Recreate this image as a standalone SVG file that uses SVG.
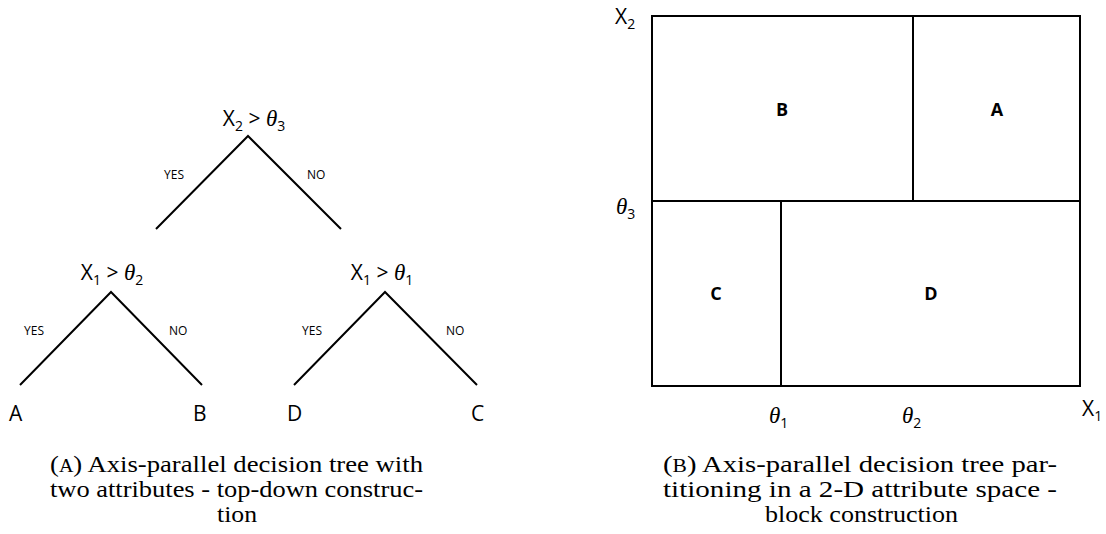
<svg xmlns="http://www.w3.org/2000/svg" width="1106" height="534" viewBox="0 0 1106 534">
<style>
.ln{stroke:#000;stroke-width:2;fill:none}
.lbl{font-family:"Open Sans","Liberation Sans",sans-serif;font-size:21px;fill:#000}
.sm{font-family:"Open Sans","Liberation Sans",sans-serif;font-size:12px;fill:#000}
.th{font-family:"Liberation Serif",serif;font-style:italic;font-size:23px}
.sub{font-size:14px}
.blk{font-family:"Open Sans","Liberation Sans",sans-serif;font-size:18px;font-weight:bold;text-anchor:middle;fill:#000}
.cap{font-family:"Liberation Serif",serif;font-size:24px;fill:#000}
.mid{text-anchor:middle}
</style>
<rect width="1106" height="534" fill="#fff"/>

<g id="connectors">
  <path class="ln" d="M156,229 L248,136 L341,229"/>
  <path class="ln" d="M20,385 L111,292 L202,385"/>
  <path class="ln" d="M294,385 L385,292 L477,385"/>
</g>

<g id="edge-labels">
  <text class="sm" x="164" y="179">YES</text>
  <text class="sm" x="307" y="179">NO</text>
  <text class="sm" x="24" y="335">YES</text>
  <text class="sm" x="169" y="335">NO</text>
  <text class="sm" x="302" y="335">YES</text>
  <text class="sm" x="446" y="335">NO</text>
</g>

<g id="node-root">
  <text class="lbl mid" x="254" y="126">X<tspan class="sub" dy="5">2</tspan><tspan dy="-5"> &gt; </tspan><tspan class="th">θ</tspan><tspan class="sub" dy="5">3</tspan></text>
</g>
<g id="node-left">
  <text class="lbl mid" x="112" y="280">X<tspan class="sub" dy="5">1</tspan><tspan dy="-5"> &gt; </tspan><tspan class="th">θ</tspan><tspan class="sub" dy="5">2</tspan></text>
</g>
<g id="node-right">
  <text class="lbl mid" x="382" y="280">X<tspan class="sub" dy="5">1</tspan><tspan dy="-5"> &gt; </tspan><tspan class="th">θ</tspan><tspan class="sub" dy="5">1</tspan></text>
</g>
<g id="leaf-A"><text class="lbl" x="9" y="421">A</text></g>
<g id="leaf-B"><text class="lbl" x="193" y="421">B</text></g>
<g id="leaf-D"><text class="lbl" x="287" y="421">D</text></g>
<g id="leaf-C"><text class="lbl" x="471" y="421">C</text></g>

<g id="caption-a">
  <text class="cap" x="50" y="472" textLength="373" lengthAdjust="spacingAndGlyphs">(<tspan font-size="18">A</tspan>) Axis-parallel decision tree with</text>
  <text class="cap" x="50" y="497" textLength="373" lengthAdjust="spacingAndGlyphs">two attributes - top-down construc-</text>
  <text class="cap" x="217" y="522" textLength="40" lengthAdjust="spacingAndGlyphs">tion</text>
</g>

<g id="partition">
  <rect class="ln" x="652" y="16" width="428" height="370"/>
  <line class="ln" x1="652" y1="201" x2="1080" y2="201"/>
  <line class="ln" x1="913" y1="16" x2="913" y2="201"/>
  <line class="ln" x1="781" y1="201" x2="781" y2="386"/>
</g>
<g id="block-B"><text class="blk" x="782" y="116">B</text></g>
<g id="block-A"><text class="blk" x="997" y="116">A</text></g>
<g id="block-C"><text class="blk" x="716" y="300">C</text></g>
<g id="block-D"><text class="blk" x="931" y="300">D</text></g>

<g id="axis-labels">
  <text class="lbl" x="615" y="24">X<tspan class="sub" dy="5">2</tspan></text>
  <text class="lbl" x="616" y="214"><tspan class="th">θ</tspan><tspan class="sub" dy="5">3</tspan></text>
  <text class="lbl" x="769" y="423"><tspan class="th">θ</tspan><tspan class="sub" dy="5">1</tspan></text>
  <text class="lbl" x="902" y="423"><tspan class="th">θ</tspan><tspan class="sub" dy="5">2</tspan></text>
  <text class="lbl" x="1082" y="416">X<tspan class="sub" dy="5">1</tspan></text>
</g>

<g id="caption-b">
  <text class="cap" x="663" y="472" textLength="394" lengthAdjust="spacingAndGlyphs">(<tspan font-size="18">B</tspan>) Axis-parallel decision tree par-</text>
  <text class="cap" x="663" y="497" textLength="394" lengthAdjust="spacingAndGlyphs">titioning in a 2-D attribute space -</text>
  <text class="cap" x="765" y="522" textLength="193" lengthAdjust="spacingAndGlyphs">block construction</text>
</g>
</svg>
